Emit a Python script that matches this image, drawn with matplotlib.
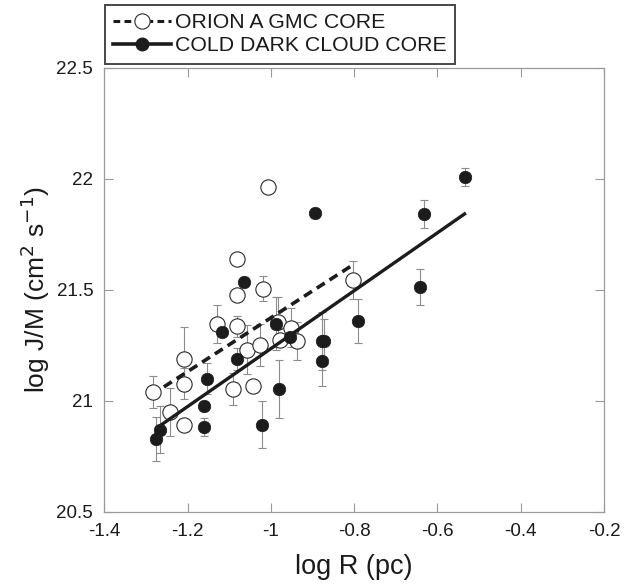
import matplotlib

matplotlib.use("Agg")
import matplotlib.pyplot as plt

plt.rcParams["font.family"] = ["Liberation Sans", "DejaVu Sans"]

# Orion A GMC cores (open circles)
orion_logr = [-1.282, -1.242, -1.208, -1.208, -1.208, -1.130, -1.082, -1.082, -1.082, -1.090,
              -1.058, -1.042, -1.026, -1.020, -1.008, -0.982, -0.978, -0.952, -0.938, -0.802]
orion_logjm = [21.04, 20.95, 21.19, 21.078, 20.89, 21.347, 21.641, 21.476, 21.336, 21.054,
               21.231, 21.066, 21.25, 21.506, 21.964, 21.356, 21.276, 21.33, 21.27, 21.546]
orion_err = [0.071, 0.11, 0.144, 0.068, 0.0, 0.086, 0.0, 0.0, 0.048, 0.071,
             0.11, 0.0, 0.095, 0.057, 0.0, 0.113, 0.0, 0.087, 0.086, 0.086]

# cold dark cloud cores (filled circles)
cold_logr = [-1.276, -1.266, -1.153, -1.161, -1.161, -1.118, -1.064, -1.082, -1.022, -0.988,
             -0.981, -0.954, -0.894, -0.878, -0.872, -0.878, -0.790, -0.632, -0.642, -0.534]
cold_logjm = [20.829, 20.871, 21.10, 20.976, 20.883, 21.312, 21.534, 21.19, 20.893, 21.347,
              21.054, 21.288, 21.844, 21.27, 21.268, 21.178, 21.359, 21.842, 21.512, 22.007]
cold_err = [0.099, 0.105, 0.071, 0.0, 0.04, 0.0, 0.0, 0.05, 0.105, 0.12,
            0.13, 0.0, 0.0, 0.13, 0.1, 0.11, 0.1, 0.063, 0.08, 0.04]

# fitted lines (end points)
orion_fit_x = [-1.257, -0.802]
orion_fit_y = [21.063, 21.614]
cold_fit_x = [-1.274, -0.535]
cold_fit_y = [20.878, 21.842]

x_ticks = [-1.4, -1.2, -1.0, -0.8, -0.6, -0.4, -0.2]
x_tick_labels = ["-1.4", "-1.2", "-1", "-0.8", "-0.6", "-0.4", "-0.2"]
y_ticks = [20.5, 21.0, 21.5, 22.0, 22.5]
y_tick_labels = ["20.5", "21", "21.5", "22", "22.5"]

fig = plt.figure(figsize=(6.44, 5.85), dpi=100)
ax = fig.add_axes([0.162, 0.125, 0.776, 0.759])

err_style = dict(fmt="none", ecolor="#8c8c8c", elinewidth=0.8, capsize=3, capthick=0.8, zorder=1)
ax.errorbar(orion_logr, orion_logjm, yerr=orion_err, **err_style)
ax.errorbar(cold_logr, cold_logjm, yerr=cold_err, **err_style)

ax.plot(orion_logr, orion_logjm, "o", ms=11, mfc="white", mec="#2a2a2a", mew=0.8,
        linestyle="none", zorder=2)
ax.plot(cold_logr, cold_logjm, "o", ms=9, mfc="#1c1c1c", mec="#1c1c1c", mew=0.5,
        linestyle="none", zorder=3)

ax.plot(orion_fit_x, orion_fit_y, color="#1c1c1c", lw=2.6, dashes=(2.6, 1.6), zorder=4)
ax.plot(cold_fit_x, cold_fit_y, color="#1c1c1c", lw=2.4, zorder=4)

ax.set_xlim(-1.4, -0.2)
ax.set_ylim(20.5, 22.5)
ax.set_xticks(x_ticks, x_tick_labels)
ax.set_yticks(y_ticks, y_tick_labels)
ax.tick_params(direction="in", length=6.5, width=0.8, color="#9a9a9a",
               top=True, right=True, labelsize=13.5, pad=8, labelcolor="#1a1a1a")
for spine in ax.spines.values():
    spine.set_color("#9a9a9a")
    spine.set_linewidth(0.9)

ax.set_xlabel("log R (pc)", fontsize=19.5, color="#1a1a1a", labelpad=10)
ax.set_ylabel("log J/M (cm$^2$ s$^{-1}$)", fontsize=19, color="#1a1a1a", labelpad=3)

h1, = ax.plot([], [], color="#1c1c1c", lw=2.2, dashes=(2.2, 1.4), marker="o", ms=11,
              mfc="white", mec="#2a2a2a", mew=0.8)
h2, = ax.plot([], [], color="#1c1c1c", lw=2.6, marker="o", ms=9, mfc="#1c1c1c", mec="#1c1c1c")
leg = fig.legend([h1, h2], ["ORION A GMC CORE", "COLD DARK CLOUD CORE"],
                 loc="upper left", bbox_to_anchor=(0.163, 0.992), bbox_transform=fig.transFigure,
                 borderaxespad=0, fontsize=15.3, fancybox=False, handlelength=2.7,
                 handletextpad=0.2, labelspacing=0.2, borderpad=0.4)
leg.get_frame().set_edgecolor("#1a1a1a")
leg.get_frame().set_linewidth(1.4)
for text in leg.get_texts():
    text.set_color("#1a1a1a")

fig.savefig("out.png", dpi=100)
